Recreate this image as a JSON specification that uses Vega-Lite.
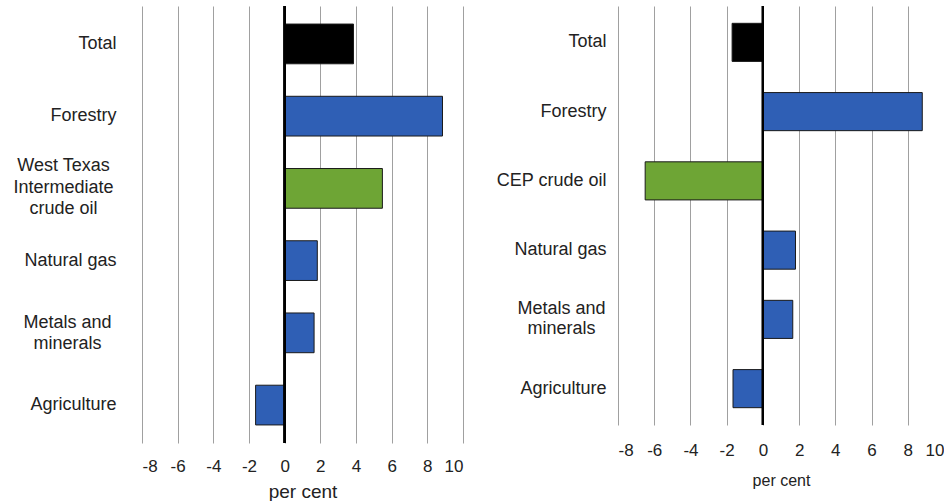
{
  "$schema": "https://vega.github.io/schema/vega-lite/v6.json",
  "background": "white",
  "padding": {"left": 0, "top": 5, "right": 0, "bottom": 0},
  "spacing": 25,
  "config": {
    "view": {"stroke": null},
    "font": "Liberation Sans",
    "axis": {"labelColor": "#222", "titleColor": "#222", "titleFontWeight": "normal", "labelFont": "Liberation Sans", "titleFont": "Liberation Sans"}
  },
  "datasets": {
    "left": [
      {"category": "Total", "group": "total", "value": 3.86},
      {"category": "Forestry", "group": "sector", "value": 8.85},
      {"category": "West Texas Intermediate crude oil", "group": "oil", "value": 5.48},
      {"category": "Natural gas", "group": "sector", "value": 1.83},
      {"category": "Metals and minerals", "group": "sector", "value": 1.65},
      {"category": "Agriculture", "group": "sector", "value": -1.63}
    ],
    "right": [
      {"category": "Total", "group": "total", "value": -1.7},
      {"category": "Forestry", "group": "sector", "value": 8.8},
      {"category": "CEP crude oil", "group": "oil", "value": -6.5},
      {"category": "Natural gas", "group": "sector", "value": 1.8},
      {"category": "Metals and minerals", "group": "sector", "value": 1.65},
      {"category": "Agriculture", "group": "sector", "value": -1.65}
    ]
  },
  "hconcat": [
    {
      "width": 321,
      "height": 437,
      "data": {"name": "left"},
      "layer": [
        {
          "mark": {"type": "bar", "stroke": "#1a1a1a", "strokeWidth": 1},
          "encoding": {
            "y": {
              "field": "category", "type": "nominal", "sort": null,
              "scale": {"paddingInner": 0.45, "paddingOuter": 0.25},
              "axis": {
                "title": null, "domain": false, "ticks": false, "grid": false,
                "labelFontSize": 18, "labelLineHeight": 21.5, "minExtent": 142, "labelLimit": 200,
                "labelAlign": {"condition": {"test": "datum.value == 'West Texas Intermediate crude oil' || datum.value == 'Metals and minerals'", "value": "center"}, "value": "right"},
                "labelPadding": {"condition": [{"test": "datum.value == 'West Texas Intermediate crude oil'", "value": 79}, {"test": "datum.value == 'Metals and minerals'", "value": 75}], "value": 26},
                "labelOffset": {"condition": [{"test": "datum.value == 'West Texas Intermediate crude oil'", "value": -22}, {"test": "datum.value == 'Metals and minerals'", "value": -10}], "value": 0},
                "labelExpr": "datum.value == 'West Texas Intermediate crude oil' ? ['West Texas', 'Intermediate', 'crude oil'] : datum.value == 'Metals and minerals' ? ['Metals and', 'minerals'] : datum.value"
              }
            },
            "x": {
              "field": "value", "type": "quantitative",
              "scale": {"domain": [-8, 10], "nice": false, "zero": false},
              "axis": {
                "title": "per cent", "titleFontSize": 19, "titlePadding": 8,
                "values": [-8, -6, -4, -2, 0, 2, 4, 6, 8, 10], "tickCount": 10, "labelOverlap": false,
                "labelExpr": "'' + datum.value",
                "domain": false, "ticks": false, "grid": true, "gridColor": "#a0a0a0", "gridWidth": 1,
                "labelFontSize": 17, "labelPadding": 15
              }
            },
            "color": {
              "field": "group", "type": "nominal", "legend": null,
              "scale": {"domain": ["total", "sector", "oil"], "range": ["#000000", "#2f5fb5", "#6ea535"]}
            }
          }
        },
        {
          "mark": {"type": "rule", "color": "#000000", "strokeWidth": 2},
          "encoding": {
            "x": {
              "datum": 0, "type": "quantitative",
              "scale": {"domain": [-8, 10], "nice": false, "zero": false},
              "axis": {
                "title": "per cent", "titleFontSize": 19, "titlePadding": 8,
                "values": [-8, -6, -4, -2, 0, 2, 4, 6, 8, 10], "tickCount": 10, "labelOverlap": false,
                "labelExpr": "'' + datum.value",
                "domain": false, "ticks": false, "grid": true, "gridColor": "#a0a0a0", "gridWidth": 1,
                "labelFontSize": 17, "labelPadding": 15
              }
            }
          }
        }
      ]
    },
    {
      "width": 326,
      "height": 419,
      "data": {"name": "right"},
      "layer": [
        {
          "mark": {"type": "bar", "stroke": "#1a1a1a", "strokeWidth": 1},
          "encoding": {
            "y": {
              "field": "category", "type": "nominal", "sort": null,
              "scale": {"paddingInner": 0.45, "paddingOuter": 0.25},
              "axis": {
                "title": null, "domain": false, "ticks": false, "grid": false,
                "labelFontSize": 18, "labelLineHeight": 20, "minExtent": 130, "labelLimit": 200,
                "labelAlign": {"condition": {"test": "datum.value == 'Metals and minerals'", "value": "center"}, "value": "right"},
                "labelPadding": {"condition": {"test": "datum.value == 'Metals and minerals'", "value": 57}, "value": 12},
                "labelOffset": {"condition": {"test": "datum.value == 'Metals and minerals'", "value": -10}, "value": 0},
                "labelExpr": "datum.value == 'Metals and minerals' ? ['Metals and', 'minerals'] : datum.value"
              }
            },
            "x": {
              "field": "value", "type": "quantitative",
              "scale": {"domain": [-8, 10], "nice": false, "zero": false},
              "axis": {
                "title": "per cent", "titleFontSize": 16, "titlePadding": 14,
                "values": [-8, -6, -4, -2, 0, 2, 4, 6, 8, 10], "tickCount": 10, "labelOverlap": false,
                "labelExpr": "'' + datum.value",
                "domain": false, "ticks": false, "grid": true, "gridColor": "#a0a0a0", "gridWidth": 1,
                "labelFontSize": 17, "labelPadding": 17
              }
            },
            "color": {
              "field": "group", "type": "nominal", "legend": null,
              "scale": {"domain": ["total", "sector", "oil"], "range": ["#000000", "#2f5fb5", "#6ea535"]}
            }
          }
        },
        {
          "mark": {"type": "rule", "color": "#000000", "strokeWidth": 2},
          "encoding": {
            "x": {
              "datum": 0, "type": "quantitative",
              "scale": {"domain": [-8, 10], "nice": false, "zero": false},
              "axis": {
                "title": "per cent", "titleFontSize": 16, "titlePadding": 14,
                "values": [-8, -6, -4, -2, 0, 2, 4, 6, 8, 10], "tickCount": 10, "labelOverlap": false,
                "labelExpr": "'' + datum.value",
                "domain": false, "ticks": false, "grid": true, "gridColor": "#a0a0a0", "gridWidth": 1,
                "labelFontSize": 17, "labelPadding": 17
              }
            }
          }
        }
      ]
    }
  ]
}
